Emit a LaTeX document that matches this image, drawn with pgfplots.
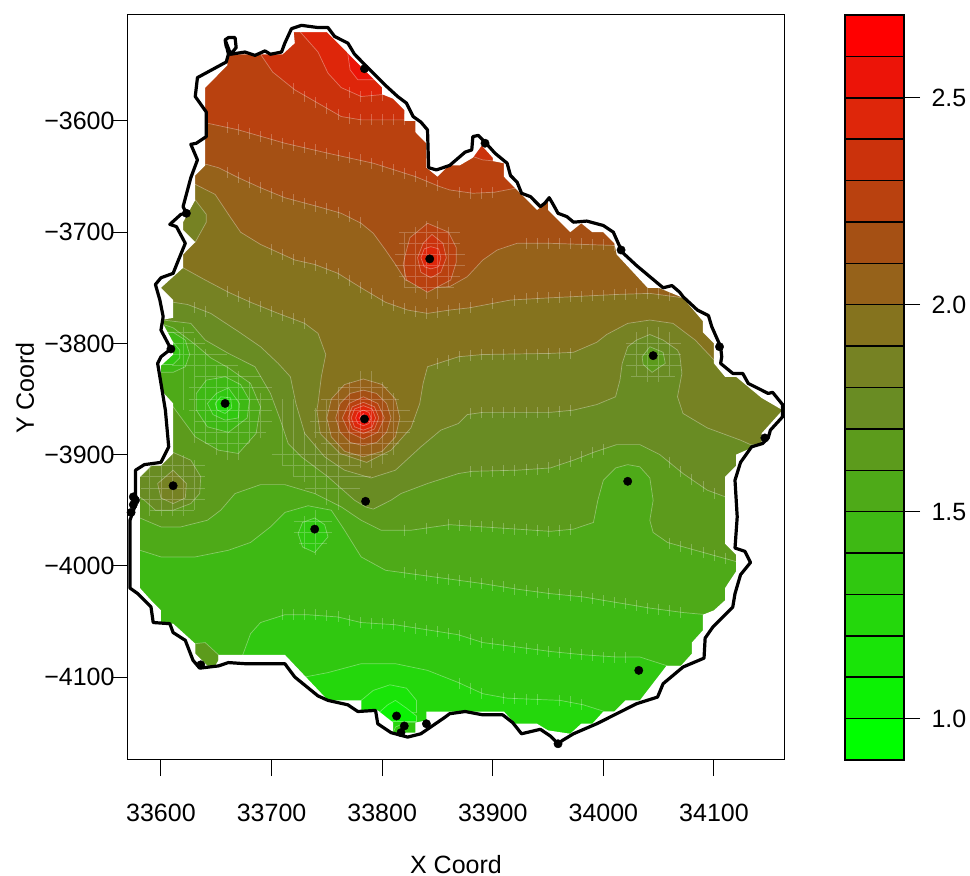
\documentclass[border=0pt]{standalone}
\usepackage{pgfplots}
\pgfplotsset{compat=1.18}
\usepackage{fontspec}
\setmainfont{Liberation Sans}
\definecolor{c0}{RGB}{0,255,0}
\definecolor{c1}{RGB}{12,242,4}
\definecolor{c2}{RGB}{25,228,8}
\definecolor{c3}{RGB}{36,215,12}
\definecolor{c4}{RGB}{48,200,16}
\definecolor{c5}{RGB}{62,185,20}
\definecolor{c6}{RGB}{78,170,24}
\definecolor{c7}{RGB}{92,155,28}
\definecolor{c8}{RGB}{105,140,35}
\definecolor{c9}{RGB}{118,130,35}
\definecolor{c10}{RGB}{133,115,30}
\definecolor{c11}{RGB}{150,98,26}
\definecolor{c12}{RGB}{165,80,20}
\definecolor{c13}{RGB}{185,65,15}
\definecolor{c14}{RGB}{203,50,12}
\definecolor{c15}{RGB}{222,38,10}
\definecolor{c16}{RGB}{236,20,8}
\definecolor{c17}{RGB}{255,0,0}
\newcommand{\band}[2]{\addplot[fill=c#1,draw=white,draw opacity=.35,line width=.7pt] coordinates {#2} --cycle;}
\newcommand{\cbar}[3]{\addplot[fill=c#1,draw=black,line width=1.5pt] coordinates {(0,#2)(1,#2)(1,#3)(0,#3)} --cycle;}
\begin{document}
\begin{tikzpicture}
\useasboundingbox (0,0) rectangle (970pt,876pt);
\begin{axis}[at={(128pt,116pt)},anchor=south west,scale only axis,width=656pt,height=745pt,
  xmin=33570.2,xmax=34163.3,ymin=-4174.6,ymax=-3504.7,axis on top,
  scaled x ticks=false,scaled y ticks=false,
  axis line style={line width=1pt},
  tick style={black,line width=1pt},major tick length=16pt,tick align=outside,
  xtick pos=bottom,ytick pos=left,
  xtick={33600,33700,33800,33900,34000,34100},
  xticklabels={33600,33700,33800,33900,34000,34100},
  ytick={-4100,-4000,-3900,-3800,-3700,-3600},
  yticklabels={−4100,−4000,−3900,−3800,−3700,−3600},
  tick label style={font=\fontsize{25}{30}\selectfont},
  xticklabel style={yshift=-25pt},
  yticklabel style={xshift=6pt}]
% base and bands, south to north
\band{3}{(33560,-4190)(34180,-4190)(34180,-3490)(33560,-3490)}
\band{4}{(33730,-4100)(33751,-4096)(33781,-4088)(33812,-4088)(33841,-4094)(33869,-4105)(33891,-4115)(33913,-4119)(33961,-4121)(33982,-4125)(34001,-4131)(34180,-4131)(34180,-3490)(33560,-3490)(33560,-4100)}
\band{5}{(33674,-4100)(33674,-4080)(33681,-4061)(33690,-4051)(33712,-4044)(33733,-4044)(33760,-4046)(33781,-4051)(33812,-4053)(33869,-4062)(33891,-4069)(33922,-4073)(33952,-4077)(33982,-4080)(34012,-4082)(34033,-4082)(34058,-4090)(34180,-4090)(34180,-3490)(33560,-3490)(33560,-4100)}
\band{6}{(33560,-3986)(33581,-3986)(33600,-3992)(33631,-3992)(33661,-3986)(33681,-3979)(33699,-3965)(33712,-3952)(33733,-3946)(33754,-3950)(33766,-3968)(33781,-3992)(33803,-4004)(33869,-4013)(33891,-4016)(33922,-4021)(33952,-4025)(33982,-4028)(34012,-4033)(34042,-4038)(34072,-4042)(34094,-4044)(34180,-4045)(34180,-3490)(33560,-3490)}
\band{7}{(33560,-3957)(33581,-3957)(33600,-3965)(33618,-3965)(33642,-3959)(33654,-3950)(33667,-3935)(33690,-3927)(33712,-3927)(33739,-3935)(33763,-3947)(33781,-3959)(33799,-3968)(33826,-3968)(33861,-3963)(33891,-3965)(33922,-3967)(33952,-3969)(33973,-3967)(33991,-3961)(33995,-3941)(34000,-3923)(34011,-3912)(34022,-3909)(34033,-3911)(34042,-3921)(34045,-3941)(34042,-3959)(34045,-3970)(34058,-3979)(34094,-3989)(34123,-3997)(34180,-3997)(34180,-3490)(33560,-3490)}
\band{8}{(33560,-3779)(33602,-3779)(33627,-3782)(33640,-3797)(33661,-3809)(33685,-3821)(33699,-3845)(33708,-3869)(33715,-3890)(33727,-3902)(33751,-3920)(33775,-3941)(33785,-3947)(33792,-3949)(33808,-3941)(33817,-3935)(33841,-3926)(33869,-3917)(33882,-3915)(33922,-3914)(33952,-3912)(33973,-3905)(33991,-3898)(34012,-3891)(34033,-3891)(34051,-3900)(34072,-3917)(34094,-3932)(34113,-3939)(34180,-3945)(34180,-3490)(33560,-3490)}
\band{9}{(33560,-3763)(33611,-3763)(33624,-3765)(33645,-3773)(33671,-3790)(33690,-3803)(33706,-3818)(33717,-3830)(33722,-3854)(33730,-3881)(33748,-3902)(33766,-3914)(33790,-3921)(33812,-3914)(33835,-3893)(33853,-3878)(33869,-3872)(33877,-3864)(33891,-3862)(33952,-3862)(33973,-3860)(33994,-3855)(34011,-3848)(34015,-3833)(34017,-3818)(34022,-3803)(34030,-3797)(34042,-3792)(34054,-3797)(34067,-3806)(34069,-3810)(34071,-3827)(34067,-3848)(34072,-3863)(34094,-3876)(34124,-3887)(34133,-3891)(34180,-3893)(34180,-3490)(33560,-3490)}
\band{10}{(33560,-3732)(33620,-3732)(33640,-3743)(33661,-3754)(33681,-3763)(33706,-3773)(33730,-3782)(33742,-3791)(33749,-3810)(33745,-3830)(33742,-3854)(33741,-3860)(33744,-3881)(33762,-3899)(33786,-3907)(33808,-3896)(33826,-3876)(33834,-3854)(33837,-3836)(33841,-3821)(33869,-3812)(33891,-3810)(33952,-3809)(33973,-3808)(33994,-3799)(34003,-3792)(34022,-3782)(34042,-3779)(34063,-3782)(34083,-3797)(34103,-3818)(34180,-3818)(34180,-3490)(33560,-3490)}
\band{11}{(33560,-3657)(33631,-3657)(33649,-3666)(33661,-3684)(33672,-3700)(33690,-3711)(33721,-3725)(33739,-3729)(33760,-3737)(33781,-3750)(33803,-3763)(33823,-3770)(33841,-3773)(33861,-3770)(33879,-3768)(33916,-3761)(33952,-3759)(34012,-3756)(34042,-3755)(34072,-3759)(34180,-3759)(34180,-3490)(33560,-3490)}
\band{12}{(33560,-3639)(33641,-3639)(33652,-3642)(33670,-3651)(33690,-3660)(33712,-3669)(33742,-3677)(33763,-3683)(33781,-3692)(33792,-3701)(33803,-3716)(33812,-3729)(33821,-3743)(33841,-3750)(33861,-3749)(33877,-3740)(33891,-3725)(33904,-3716)(33922,-3710)(33952,-3710)(33982,-3711)(34012,-3712)(34180,-3712)(34180,-3490)(33560,-3490)}
\band{13}{(33560,-3602)(33642,-3602)(33670,-3608)(33712,-3620)(33751,-3629)(33792,-3638)(33830,-3650)(33852,-3659)(33861,-3662)(33882,-3665)(33902,-3664)(33923,-3660)(34180,-3660)(34180,-3490)(33560,-3490)}
\band{14}{(33690,-3490)(33690,-3540)(33701,-3556)(33721,-3572)(33742,-3584)(33763,-3596)(33781,-3599)(33822,-3599)(34180,-3599)(34180,-3490)}
\band{15}{(33726,-3490)(33726,-3520)(33742,-3538)(33751,-3557)(33763,-3570)(33781,-3578)(33803,-3576)(34000,-3576)(34000,-3490)}
\band{16}{(33769,-3490)(33769,-3540)(33771,-3554)(33778,-3563)(33792,-3563)(33900,-3563)(33900,-3490)}
\band{14}{(33882,-3632)(33891,-3635)(33902,-3636)(33910,-3600)(33875,-3600)}
% local patches
\band{9}{(33600,-3671)(33631,-3671)(33641,-3684)(33641,-3691)(33631,-3709)(33600,-3709)}
\band{13}{(33821,-3720)(33825,-3705)(33841,-3692)(33860,-3700)(33867,-3714)(33867,-3727)(33862,-3743)(33841,-3754)(33822,-3743)(33819,-3729)}
\band{14}{(33832,-3723)(33837,-3710)(33845,-3702)(33855,-3710)(33858,-3723)(33853,-3736)(33844,-3741)(33835,-3736)}
\band{15}{(33835,-3723)(33838,-3715)(33844,-3713)(33851,-3715)(33853,-3723)(33851,-3731)(33844,-3733)(33838,-3731)}
\band{11}{(33750,-3867)(33754,-3850)(33766,-3837)(33783,-3832)(33800,-3837)(33812,-3850)(33816,-3867)(33812,-3884)(33800,-3897)(33783,-3902)(33766,-3897)(33754,-3884)}
\band{12}{(33758,-3867)(33762,-3854)(33771,-3845)(33783,-3842)(33795,-3845)(33804,-3854)(33808,-3867)(33804,-3880)(33795,-3889)(33783,-3892)(33771,-3889)(33762,-3880)}
\band{13}{(33764,-3867)(33770,-3854)(33783,-3848)(33796,-3854)(33802,-3867)(33796,-3880)(33783,-3886)(33770,-3880)}
\band{14}{(33769,-3867)(33773,-3857)(33783,-3853)(33793,-3857)(33797,-3867)(33793,-3877)(33783,-3881)(33773,-3877)}
\band{15}{(33772,-3867)(33775,-3859)(33783,-3856)(33791,-3859)(33794,-3867)(33791,-3875)(33783,-3878)(33775,-3875)}
\band{16}{(33776,-3867)(33778,-3862)(33783,-3860)(33788,-3862)(33790,-3867)(33788,-3872)(33783,-3874)(33778,-3872)}
\band{17}{(33779,-3867)(33783,-3863)(33787,-3867)(33783,-3871)}
\band{6}{(33590,-3779)(33611,-3786)(33631,-3801)(33645,-3813)(33661,-3822)(33681,-3836)(33690,-3857)(33686,-3881)(33670,-3899)(33652,-3896)(33631,-3884)(33611,-3857)(33600,-3842)(33590,-3842)}
\band{5}{(33632,-3845)(33641,-3833)(33658,-3830)(33672,-3837)(33680,-3851)(33678,-3867)(33661,-3880)(33642,-3875)(33632,-3860)}
\band{4}{(33642,-3854)(33650,-3845)(33661,-3840)(33671,-3854)(33670,-3867)(33658,-3869)(33647,-3864)}
\band{3}{(33649,-3854)(33654,-3848)(33663,-3849)(33664,-3858)(33658,-3863)(33651,-3860)}
\band{5}{(33611,-3790)(33622,-3797)(33626,-3810)(33622,-3821)(33611,-3826)(33590,-3826)(33590,-3790)}
\band{4}{(33611,-3799)(33617,-3806)(33617,-3813)(33611,-3819)(33590,-3819)(33590,-3799)}
\band{8}{(33581,-3920)(33600,-3902)(33611,-3898)(33627,-3905)(33636,-3920)(33635,-3935)(33627,-3944)(33611,-3950)(33595,-3950)(33585,-3941)(33572,-3932)(33572,-3920)}
\band{9}{(33597,-3926)(33611,-3914)(33623,-3926)(33622,-3939)(33611,-3944)(33600,-3939)}
\band{4}{(33724,-3971)(33728,-3961)(33739,-3957)(33748,-3963)(33751,-3974)(33739,-3988)(33728,-3983)}
\band{7}{(33631,-4070)(33640,-4069)(33652,-4080)(33652,-4095)(33631,-4095)}
\band{2}{(33781,-4121)(33792,-4112)(33807,-4107)(33822,-4110)(33831,-4121)(33831,-4132)(33781,-4132)}
\band{1}{(33796,-4133)(33805,-4125)(33812,-4121)(33822,-4128)(33831,-4135)(33831,-4140)(33800,-4140)}
\band{4}{(33812,-4145)(33821,-4141)(33832,-4141)(33832,-4155)(33808,-4155)}
\band{7}{(34035,-3812)(34042,-3803)(34054,-3808)(34056,-3818)(34044,-3826)(34036,-3819)}
% faint cell edges of the image around the contours
\addplot[only marks,mark=|,mark size=5.5pt,mark options={draw=white,draw opacity=.25,line width=.8pt}] coordinates {
(33660,-3606)(33670,-3608)(33680,-3611)(33690,-3614)(33700,-3617)(33710,-3620)(33720,-3622)(33730,-3624)(33740,-3626)(33750,-3629)(33760,-3631)(33770,-3633)(33780,-3635)(33790,-3638)(33800,-3641)(33810,-3644)(33820,-3647)(33830,-3650)(33840,-3654)(33850,-3658)(33870,-3664)(33880,-3665)(33890,-3665)(33900,-3664)
(33720,-3571)(33730,-3578)(33740,-3583)(33750,-3589)(33760,-3594)(33770,-3598)(33780,-3599)(33790,-3599)(33800,-3599)(33810,-3599)(33820,-3599)
(33770,-3574)(33780,-3578)(33790,-3578)(33800,-3577)
(33660,-3646)(33670,-3651)(33680,-3655)(33690,-3660)(33700,-3665)(33710,-3668)(33720,-3671)(33730,-3674)(33740,-3677)(33750,-3679)(33760,-3682)(33770,-3686)(33780,-3691)(33930,-3710)(33940,-3710)(33950,-3710)(33960,-3710)(33970,-3710)(33980,-3710)(33990,-3711)(34000,-3711)(34010,-3712)
(33700,-3716)(33710,-3720)(33720,-3725)(33730,-3727)(33740,-3730)(33750,-3733)(33760,-3737)(33770,-3743)(33780,-3750)(33790,-3755)(33800,-3761)(33810,-3766)(33820,-3769)(33830,-3771)(33840,-3773)(33850,-3772)(33860,-3770)(33870,-3769)(33880,-3768)(33900,-3764)(33920,-3761)(33930,-3760)(33940,-3759)(33950,-3759)(33960,-3759)(33970,-3758)(33980,-3758)(33990,-3757)(34000,-3757)(34010,-3756)(34020,-3756)(34030,-3755)(34040,-3755)(34050,-3755)(34060,-3757)
(33660,-3753)(33670,-3758)(33680,-3763)(33690,-3767)(33700,-3771)(33710,-3775)(33720,-3778)(33730,-3782)(33850,-3818)(33860,-3815)(33870,-3812)(33880,-3811)(33890,-3810)(33900,-3810)(33910,-3810)(33920,-3810)(33930,-3810)(33940,-3810)(33950,-3809)(33960,-3809)(33970,-3809)
(33880,-3863)(33890,-3862)(33900,-3862)(33910,-3862)(33920,-3862)(33930,-3862)(33940,-3862)(33950,-3862)(33960,-3861)(33970,-3860)(33630,-3768)(33640,-3771)
(33880,-3915)(33890,-3915)(33900,-3915)(33910,-3914)(33920,-3914)(33930,-3913)(33940,-3913)(33950,-3912)(33960,-3909)(33970,-3906)(33980,-3902)(33990,-3898)(34000,-3895)(34060,-3907)(34070,-3915)(34080,-3922)(34090,-3929)(34100,-3935)
(33820,-3968)(33840,-3966)(33860,-3963)(33870,-3964)(33880,-3964)(33890,-3965)(33900,-3965)(33910,-3966)(33920,-3967)(33930,-3967)(33940,-3968)(33950,-3969)(33960,-3968)(33970,-3967)(34060,-3980)(34070,-3983)(34080,-3985)(34090,-3988)(34100,-3991)(34110,-3993)
(33820,-4006)(33830,-4008)(33840,-4009)(33850,-4011)(33860,-4012)(33870,-4013)(33880,-4015)(33890,-4016)(33900,-4018)(33910,-4019)(33920,-4021)(33930,-4022)(33940,-4024)(33950,-4025)(33960,-4026)(33970,-4027)(33980,-4028)(33990,-4029)(34000,-4031)(34010,-4033)(34020,-4034)(34030,-4036)(34040,-4038)(34050,-4039)(34060,-4040)(34070,-4042)
(33710,-4044)(33720,-4044)(33730,-4044)(33740,-4044)(33750,-4045)(33760,-4046)(33770,-4049)(33780,-4051)(33790,-4052)(33800,-4052)(33810,-4053)(33820,-4055)(33830,-4056)(33840,-4058)(33850,-4059)(33860,-4061)(33870,-4063)(33880,-4066)(33890,-4069)(33900,-4070)(33910,-4072)(33920,-4073)(33930,-4074)(33940,-4075)(33950,-4077)(33960,-4078)(33970,-4079)(33980,-4080)(33990,-4081)(34000,-4082)(34010,-4082)(34020,-4082)
(33870,-4106)(33880,-4110)(33890,-4115)(33910,-4119)(33920,-4119)(33930,-4120)(33940,-4120)(33960,-4121)(33970,-4122)(33980,-4125)
};
\addplot[white,opacity=.22,line width=.8pt,unbounded coords=jump] coordinates {
(33740,-3858)(33740,-3885)(33740,nan)(33750,-3850)(33750,-3895)(33750,nan)(33760,-3840)(33760,-3905)(33760,nan)(33770,-3835)(33770,-3910)(33770,nan)(33780,-3825)(33780,-3912)(33780,nan)(33790,-3825)(33790,-3912)(33790,nan)(33800,-3835)(33800,-3908)(33800,nan)(33810,-3845)(33810,-3900)(33810,nan)
(33760,-3840)(33805,-3840)(33805,nan)(33745,-3850)(33815,-3850)(33815,nan)(33738,-3860)(33825,-3860)(33825,nan)(33735,-3870)(33830,-3870)(33830,nan)(33738,-3880)(33825,-3880)(33825,nan)(33745,-3890)(33815,-3890)(33815,nan)(33755,-3900)(33805,-3900)(33805,nan)
(33620,-3785)(33620,-3860)(33620,nan)(33630,-3795)(33630,-3890)(33630,nan)(33640,-3805)(33640,-3890)(33640,nan)(33650,-3820)(33650,-3900)(33650,nan)(33660,-3820)(33660,-3905)(33660,nan)(33670,-3825)(33670,-3905)(33670,nan)(33680,-3835)(33680,-3890)(33680,nan)(33690,-3845)(33690,-3885)(33690,nan)
(33600,-3790)(33630,-3790)(33630,nan)(33600,-3800)(33640,-3800)(33640,nan)(33610,-3810)(33660,-3810)(33660,nan)(33610,-3820)(33670,-3820)(33670,nan)(33630,-3830)(33690,-3830)(33690,nan)(33625,-3840)(33700,-3840)(33700,nan)(33625,-3850)(33700,-3850)(33700,nan)(33625,-3860)(33700,-3860)(33700,nan)(33630,-3870)(33700,-3870)(33700,nan)(33630,-3880)(33695,-3880)(33695,nan)(33640,-3890)(33680,-3890)(33680,nan)
(33590,-3900)(33590,-3955)(33590,nan)(33600,-3900)(33600,-3955)(33600,nan)(33610,-3895)(33610,-3955)(33610,nan)(33620,-3900)(33620,-3955)(33620,nan)(33630,-3905)(33630,-3950)(33630,nan)
(33582,-3910)(33640,-3910)(33640,nan)(33582,-3920)(33640,-3920)(33640,nan)(33582,-3930)(33640,-3930)(33640,nan)(33582,-3940)(33640,-3940)(33640,nan)(33590,-3950)(33630,-3950)(33630,nan)
(33710,-3850)(33710,-3910)(33710,nan)(33720,-3850)(33720,-3920)(33720,nan)(33730,-3880)(33730,-3925)(33730,nan)(33740,-3890)(33740,-3935)(33740,nan)(33750,-3895)(33750,-3945)(33750,nan)(33760,-3905)(33760,-3950)(33760,nan)
(33700,-3900)(33770,-3900)(33770,nan)(33710,-3910)(33780,-3910)(33780,nan)(33720,-3920)(33790,-3920)(33790,nan)(33730,-3930)(33780,-3930)(33780,nan)
(33820,-3700)(33820,-3750)(33820,nan)(33830,-3695)(33830,-3755)(33830,nan)(33840,-3690)(33840,-3760)(33840,nan)(33850,-3690)(33850,-3760)(33850,nan)(33860,-3695)(33860,-3750)(33860,nan)
(33815,-3700)(33870,-3700)(33870,nan)(33815,-3710)(33870,-3710)(33870,nan)(33812,-3720)(33875,-3720)(33875,nan)(33812,-3730)(33875,-3730)(33875,nan)(33815,-3740)(33870,-3740)(33870,nan)(33820,-3750)(33865,-3750)(33865,nan)
(34030,-3790)(34030,-3830)(34030,nan)(34040,-3785)(34040,-3835)(34040,nan)(34050,-3785)(34050,-3835)(34050,nan)(34060,-3790)(34060,-3830)(34060,nan)
(34020,-3800)(34070,-3800)(34070,nan)(34020,-3810)(34070,-3810)(34070,nan)(34020,-3820)(34070,-3820)(34070,nan)(34025,-3830)(34065,-3830)(34065,nan)
(33730,-3955)(33730,-3985)(33730,nan)(33740,-3950)(33740,-3990)(33740,nan)(33720,-3960)(33755,-3960)(33755,nan)(33720,-3970)(33755,-3970)(33755,nan)(33725,-3980)(33750,-3980)(33750,nan)
};
% white outside the interpolation mask
\addplot[fill=white,draw=none,even odd rule] coordinates {(33560,-3490)(34180,-3490)(34180,-4190)(33560,-4190)(33560,-3490)
(33720,-3520)(33750,-3520)(33770,-3540)(33790,-3560)(33800,-3570)(33800,-3576)(33810,-3580)(33820,-3590)(33820,-3600)(33830,-3600)(33830,-3610)(33840,-3620)(33840,-3642)(33850,-3650)(33860,-3640)(33870,-3640)(33882,-3633)(33890,-3622)(33900,-3633)(33900,-3636)(33910,-3638)(33910,-3650)(33920,-3660)(33930,-3670)(33940,-3680)(33950,-3672)(33950,-3680)(33970,-3700)(33980,-3692)(33990,-3700)(34000,-3700)(34010,-3710)(34012,-3720)(34040,-3750)(34050,-3750)(34072,-3759)(34090,-3780)(34090,-3790)(34100,-3800)(34100,-3818)(34110,-3830)(34120,-3830)(34143,-3849)(34162,-3860)(34143,-3881)(34143,-3890)(34120,-3900)(34120,-3910)(34110,-3920)(34110,-3980)(34120,-3990)(34120,-4005)(34110,-4020)(34110,-4031)(34100,-4040)(34090,-4044)(34090,-4058)(34080,-4069)(34080,-4079)(34070,-4090)(34057,-4090)(34033,-4121)(34020,-4121)(34010,-4131)(34000,-4131)(33990,-4142)(33980,-4142)(33970,-4151)(33950,-4148)(33940,-4142)(33920,-4142)(33910,-4131)(33840,-4131)(33840,-4139)(33830,-4141)(33830,-4150)(33810,-4150)(33810,-4141)(33796,-4130)(33781,-4130)(33781,-4121)(33751,-4121)(33712,-4080)(33652,-4080)(33652,-4085)(33649,-4090)(33642,-4090)(33631,-4079)(33631,-4070)(33611,-4052)(33600,-4052)(33600,-4040)(33591,-4031)(33581,-4020)(33581,-3920)(33591,-3910)(33600,-3910)(33611,-3899)(33611,-3854)(33600,-3842)(33600,-3820)(33611,-3810)(33611,-3799)(33600,-3779)(33611,-3777)(33611,-3761)(33600,-3750)(33620,-3732)(33620,-3720)(33631,-3709)(33620,-3698)(33620,-3691)(33631,-3671)(33631,-3649)(33640,-3640)(33640,-3570)(33660,-3550)(33660,-3540)(33710,-3540)(33721,-3530)(33720,-3520)
(33560,-3490)} --cycle;
% country border
\addplot[black,line width=3.2pt,line join=round] coordinates {(33661,-3540)(33658,-3527)(33661,-3525)(33667,-3525)(33668,-3534)(33663,-3540)(33659,-3533)(33658,-3527)(33663,-3540)(33676,-3538)(33685,-3541)(33694,-3537)(33699,-3540)(33709,-3538)(33712,-3530)(33718,-3517)(33727,-3514)(33742,-3516)(33751,-3516)(33757,-3524)(33769,-3530)(33775,-3540)(33784,-3549)(33792,-3557)(33803,-3568)(33814,-3578)(33822,-3584)(33828,-3596)(33835,-3601)(33841,-3608)(33842,-3642)(33849,-3644)(33858,-3641)(33861,-3640)(33875,-3628)(33881,-3626)(33882,-3614)(33887,-3613)(33893,-3619)(33902,-3629)(33913,-3638)(33916,-3649)(33922,-3655)(33926,-3665)(33934,-3668)(33943,-3677)(33947,-3674)(33951,-3669)(33954,-3674)(33959,-3683)(33967,-3686)(33973,-3691)(33985,-3690)(34000,-3694)(34009,-3700)(34013,-3709)(34017,-3718)(34030,-3730)(34054,-3750)(34062,-3748)(34069,-3754)(34072,-3758)(34085,-3770)(34095,-3775)(34098,-3785)(34106,-3803)(34107,-3812)(34106,-3818)(34117,-3827)(34126,-3827)(34131,-3836)(34143,-3842)(34149,-3845)(34153,-3844)(34162,-3855)(34162,-3866)(34151,-3878)(34149,-3885)(34144,-3890)(34134,-3893)(34124,-3907)(34119,-3923)(34121,-3956)(34119,-3984)(34128,-3987)(34133,-3997)(34124,-4008)(34119,-4025)(34117,-4037)(34099,-4055)(34092,-4065)(34091,-4083)(34072,-4091)(34054,-4106)(34049,-4118)(34030,-4124)(34012,-4133)(33994,-4142)(33973,-4151)(33963,-4157)(33959,-4160)(33952,-4153)(33943,-4147)(33926,-4151)(33918,-4141)(33909,-4134)(33891,-4134)(33875,-4131)(33861,-4133)(33857,-4136)(33835,-4151)(33823,-4154)(33808,-4150)(33796,-4142)(33794,-4130)(33778,-4131)(33769,-4125)(33751,-4121)(33742,-4117)(33721,-4100)(33712,-4088)(33690,-4088)(33676,-4088)(33661,-4087)(33652,-4090)(33635,-4092)(33629,-4085)(33622,-4067)(33611,-4060)(33608,-4052)(33593,-4051)(33591,-4037)(33579,-4025)(33572,-4020)(33572,-3959)(33577,-3945)(33577,-3914)(33585,-3909)(33600,-3907)(33607,-3893)(33604,-3860)(33600,-3836)(33597,-3818)(33600,-3812)(33609,-3805)(33600,-3788)(33602,-3776)(33599,-3761)(33595,-3747)(33600,-3741)(33611,-3737)(33615,-3727)(33622,-3710)(33614,-3695)(33608,-3693)(33618,-3684)(33623,-3683)(33620,-3677)(33627,-3651)(33633,-3635)(33627,-3621)(33632,-3620)(33641,-3614)(33641,-3592)(33631,-3578)(33633,-3561)(33659,-3547)(33661,-3540)};
% sample points
\addplot[only marks,mark=*,mark size=4.2pt,mark options={fill=black,draw=black}] coordinates {(33623,-3683)(33609,-3805)(33658,-3854)(33611,-3928)(33739,-3967)(33785,-3942)(33784,-3868)(33843,-3724)(34045,-3811)(34022,-3924)(34032,-4094)(33636,-4089)(33813,-4135)(33820,-4144)(33817,-4150)(33840,-4142)(33959,-4160)(33784,-3553)(33893,-3620)(34016,-3716)(34105,-3803)(34146,-3885)(33575,-3938)(33575,-3945)(33573,-3952)(33577,-3941)};
\end{axis}
\begin{axis}[at={(845pt,116pt)},anchor=south west,scale only axis,width=59pt,height=745pt,
  xmin=0,xmax=1,ymin=0.9,ymax=2.7,axis on top,
  axis line style={line width=1.5pt},
  xtick=\empty,ytick pos=right,
  tick style={black,line width=1pt},major tick length=16pt,tick align=outside,
  ytick={1,1.5,2,2.5},yticklabels={1.0,1.5,2.0,2.5},
  yticklabel style={xshift=8pt},
  tick label style={font=\fontsize{25}{30}\selectfont}]
\cbar{0}{0.9}{1.0}\cbar{1}{1.0}{1.1}\cbar{2}{1.1}{1.2}\cbar{3}{1.2}{1.3}\cbar{4}{1.3}{1.4}\cbar{5}{1.4}{1.5}
\cbar{6}{1.5}{1.6}\cbar{7}{1.6}{1.7}\cbar{8}{1.7}{1.8}\cbar{9}{1.8}{1.9}\cbar{10}{1.9}{2.0}\cbar{11}{2.0}{2.1}
\cbar{12}{2.1}{2.2}\cbar{13}{2.2}{2.3}\cbar{14}{2.3}{2.4}\cbar{15}{2.4}{2.5}\cbar{16}{2.5}{2.6}\cbar{17}{2.6}{2.7}
\end{axis}
\node[font=\fontsize{25}{30}\selectfont] at (456pt,11pt) {X Coord};
\node[font=\fontsize{25}{30}\selectfont,rotate=90] at (25pt,488pt) {Y Coord};
\end{tikzpicture}
\end{document}
